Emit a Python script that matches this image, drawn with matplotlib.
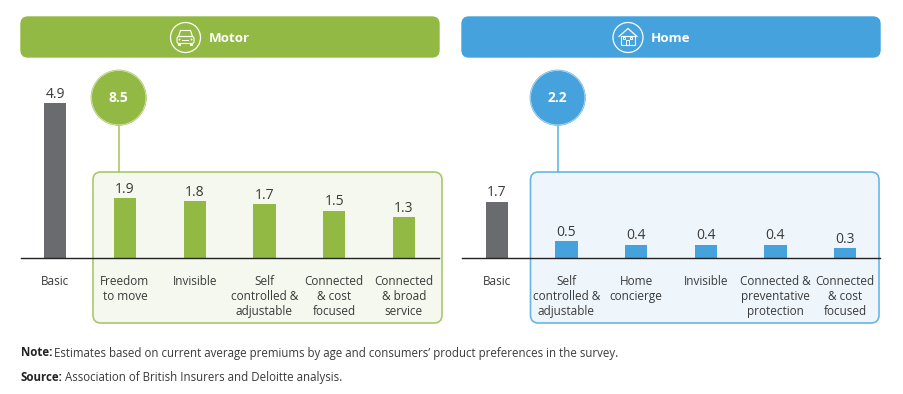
import matplotlib
matplotlib.use("Agg")
import matplotlib.pyplot as plt
from matplotlib.patches import FancyBboxPatch, Circle, Rectangle, Polygon

motor_labels = ["Basic", "Freedom\nto move", "Invisible", "Self\ncontrolled &\nadjustable",
                "Connected\n& cost\nfocused", "Connected\n& broad\nservice"]
motor_values = [4.9, 1.9, 1.8, 1.7, 1.5, 1.3]
motor_total = "8.5"
home_labels = ["Basic", "Self\ncontrolled &\nadjustable", "Home\nconcierge", "Invisible",
               "Connected &\npreventative\nprotection", "Connected\n& cost\nfocused"]
home_values = [1.7, 0.5, 0.4, 0.4, 0.4, 0.3]
home_total = "2.2"

GREEN = "#93B945"
BLUE = "#45A2DC"
GREY = "#696B6F"
TEXT = "#3A3A3A"

plt.rcParams["font.family"] = ["Open Sans", "DejaVu Sans"]

W, H = 904, 394
BASE = 258
TOP = 60


def rounded(ax, x0, y0, x1, y1, r, fc, ec, lw=1.0):
    ax.add_patch(FancyBboxPatch((x0, y0), x1 - x0, y1 - y0,
                                boxstyle=f"round,pad=0,rounding_size={r}",
                                fc=fc, ec=ec, lw=lw))


def bars(x0, x1, first, labels, values, color, px_per_unit):
    """One bar chart, placed so a unit on x is one category step"""
    step = 69.7
    ax = fig.add_axes([x0 / W, (H - BASE) / H, (x1 - x0) / W, (BASE - TOP) / H])
    ax.patch.set_alpha(0)
    colors = [GREY] + [color] * (len(values) - 1)
    rects = ax.bar(range(len(values)), values, width=0.32, color=colors)
    ax.bar_label(rects, labels=[f"{v:.1f}" for v in values], padding=1,
                 fontsize=10, color=TEXT)
    ax.set_xlim((x0 - first) / step, (x1 - first) / step)
    ax.set_ylim(0, (BASE - TOP) / px_per_unit)
    ax.set_xticks(range(len(values)))
    ax.set_xticklabels(labels, fontsize=8.5, color=TEXT, linespacing=1.2)
    ax.tick_params(axis="x", length=0, pad=12.5)
    ax.set_yticks([])
    for side in ["top", "left", "right"]:
        ax.spines[side].set_visible(False)
    ax.spines["bottom"].set_color("#222222")
    ax.spines["bottom"].set_linewidth(1.0)
    return ax


def callout(ax, cx, cy, text, color, edge):
    ax.plot([cx, cx], [cy + 28, 172], color=edge, lw=1.2, zorder=1)
    ax.add_patch(Circle((cx, cy), 28, fc=color, ec="none", zorder=2))
    ax.add_patch(Circle((cx, cy), 27.2, fc="none", ec="white", lw=0.5, alpha=0.7, zorder=3))
    ax.text(cx, cy, text, color="white", fontsize=10, fontweight="bold",
            ha="center", va="center", zorder=4)


def car_icon(ax, cx, cy):
    ax.add_patch(Circle((cx, cy), 15, fc="none", ec="white", lw=0.9))
    ax.add_patch(FancyBboxPatch((cx - 8.5, cy - 1), 17, 7,
                                boxstyle="round,pad=0,rounding_size=2", fc="none", ec="white", lw=0.8))
    ax.add_patch(Polygon([(cx - 7, cy - 1), (cx - 5, cy - 7), (cx + 5, cy - 7), (cx + 7, cy - 1)],
                         closed=True, fc="none", ec="white", lw=0.8))
    ax.plot([cx - 3, cx + 3], [cy + 2.5, cy + 2.5], color="white", lw=0.7)
    for dx in [-6, 6]:
        ax.add_patch(Circle((cx + dx, cy + 2), 1, fc="white", ec="none"))
        ax.add_patch(Rectangle((cx + dx - 1.5, cy + 6), 3, 2, fc="white", ec="none"))


def house_icon(ax, cx, cy):
    ax.add_patch(Circle((cx, cy), 15, fc="none", ec="white", lw=0.9))
    ax.plot([cx - 9, cx, cx + 9], [cy - 1, cy - 9, cy - 1], color="white", lw=0.9)
    ax.add_patch(Rectangle((cx - 7, cy - 2), 14, 9.5, fc="none", ec="white", lw=0.8))
    ax.add_patch(Rectangle((cx - 1.5, cy + 2), 3, 5.5, fc="none", ec="white", lw=0.7))
    for dx in [-4.5, 2.5]:
        ax.add_patch(Rectangle((cx + dx, cy - 1), 2, 2, fc="none", ec="white", lw=0.7))


fig = plt.figure(figsize=(W / 100, H / 100), dpi=100, facecolor="white")

# background layer in pixels, same coordinates as the picture
bg = fig.add_axes([0, 0, 1, 1])
bg.set_xlim(0, W)
bg.set_ylim(H, 0)
bg.axis("off")

rounded(bg, 21, 17, 439, 57, 7, GREEN, GREEN)
rounded(bg, 462, 17, 880, 57, 7, BLUE, BLUE)
rounded(bg, 93, 172, 442, 323, 8, "#F5F8EE", "#A8C869", 1.2)
rounded(bg, 530.5, 172, 879, 323, 8, "#EEF6FC", "#68B6E4", 1.2)

car_icon(bg, 185.5, 37.5)
bg.text(209, 38, "Motor", color="white", fontsize=9.6, fontweight="bold", va="center")
house_icon(bg, 628, 37.5)
bg.text(651, 38, "Home", color="white", fontsize=9.6, fontweight="bold", va="center")

callout(bg, 118.7, 97.7, motor_total, GREEN, "#A8C869")
callout(bg, 557.7, 97.7, home_total, BLUE, "#68B6E4")

bg.text(21, 353, "Note:", fontsize=8.3, fontweight="bold", color="#222222", va="center")
bg.text(54, 353, "Estimates based on current average premiums by age and consumers\u2019 product preferences in the survey.",
        fontsize=8.3, color=TEXT, va="center")
bg.text(21, 377.5, "Source:", fontsize=8.3, fontweight="bold", color="#222222", va="center")
bg.text(65, 377.5, "Association of British Insurers and Deloitte analysis.",
        fontsize=8.3, color=TEXT, va="center")

bars(21, 439, 55.3, motor_labels, motor_values, GREEN, 31.6)
bars(462, 880, 496.7, home_labels, home_values, BLUE, 33.2)

fig.savefig("out.png", dpi=100)
